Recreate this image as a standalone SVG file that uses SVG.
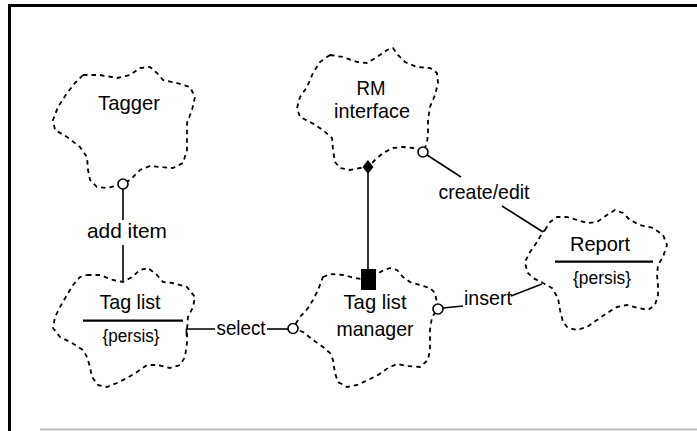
<svg xmlns="http://www.w3.org/2000/svg" width="697" height="431" viewBox="0 0 697 431">
<style>
.cloud{fill:none;stroke:#000;stroke-width:1.8;stroke-dasharray:4.5 4;stroke-linejoin:round}
.t{font-family:"Liberation Sans",Arial,sans-serif;font-size:21px;fill:#000;text-anchor:middle}
.s{font-family:"Liberation Sans",Arial,sans-serif;font-size:18px;fill:#000;text-anchor:middle}
.ln{stroke:#000;stroke-width:1.6;fill:none}
.div{stroke:#000;stroke-width:2.2}
.lol{fill:#fff;stroke:#000;stroke-width:1.6}
</style>
<rect width="697" height="431" fill="#fff"/>
<g id="frame">
<line x1="8" y1="5.5" x2="697" y2="5.5" stroke="#000" stroke-width="3"/>
<line x1="9.5" y1="4" x2="9.5" y2="431" stroke="#000" stroke-width="3"/>
<line x1="40" y1="429.5" x2="697" y2="429.5" stroke="#bbb" stroke-width="2"/>
</g>
<g id="tagger">
<polygon class="cloud" points="83,75 100,75 117,78 130,75 140,68 150,67 157,73 163,80 177,83 190,87 195,97 192,110 187,123 187,137 187,150 183,163 173,168 160,167 150,166 140,170 130,180 123,184 107,188 97,187 90,180 88,170 87,157 80,147 67,137 55,130 53,120 58,107 67,93 75,83"/>
<text class="t" x="129" y="110" textLength="62" lengthAdjust="spacingAndGlyphs">Tagger</text>
</g>
<g id="taglist">
<polygon class="cloud" points="87,275 100,275 113,280 123,282 132,277 140,270 148,268 157,275 163,282 173,283 187,287 195,297 193,307 188,317 187,330 187,343 185,357 180,365 170,368 157,365 147,365 137,372 127,378 117,383 107,387 98,385 92,377 90,367 87,357 83,350 72,343 60,337 53,328 55,317 60,307 67,295 73,285 80,277"/>
<text class="t" x="130" y="309" textLength="61" lengthAdjust="spacingAndGlyphs">Tag list</text>
<line class="div" x1="83" y1="320.7" x2="183" y2="320.7"/>
<text class="s" x="131" y="342" textLength="57" lengthAdjust="spacingAndGlyphs">{persis}</text>
</g>
<g id="taglistmanager">
<polygon class="cloud" points="323,277 330,274 343,275 355,278 368,280 376,275 382,271 390,268 397,270 403,277 410,282 420,285 430,288 435,293 437,303 438,309 432,317 430,330 430,340 430,350 428,360 420,367 407,366 397,364 388,368 378,375 368,380 357,385 347,387 338,382 335,373 333,360 330,353 323,347 313,340 303,332 293,328 300,317 308,308 313,300 318,290"/>
<text class="t" x="375" y="309" textLength="63" lengthAdjust="spacingAndGlyphs">Tag list</text>
<text class="t" x="375" y="336" textLength="77" lengthAdjust="spacingAndGlyphs">manager</text>
</g>
<g id="rminterface">
<polygon class="cloud" points="330,55 343,57 357,62 367,63 377,57 387,50 393,48 398,55 405,62 417,67 430,68 437,73 438,83 435,95 430,107 428,120 428,133 427,143 423,152 413,148 403,147 393,148 383,153 375,160 368,167 360,168 350,170 340,168 335,162 333,150 332,138 323,130 312,123 300,117 297,108 300,97 307,87 313,73 320,62"/>
<text class="t" x="371" y="95" textLength="29" lengthAdjust="spacingAndGlyphs">RM</text>
<text class="t" x="372" y="118" textLength="76" lengthAdjust="spacingAndGlyphs">interface</text>
</g>
<g id="report">
<polygon class="cloud" points="545,230 550,222 557,217 567,217 577,220 587,223 597,222 607,215 615,210 623,213 630,220 640,225 653,228 663,235 667,245 663,257 658,265 657,275 658,285 658,295 655,305 648,310 638,308 627,305 617,307 607,313 597,320 587,327 577,330 568,328 563,322 560,310 558,298 552,288 543,283 533,278 527,272 525,262 530,252 537,242 542,233"/>
<text class="t" x="600" y="251" textLength="60" lengthAdjust="spacingAndGlyphs">Report</text>
<line class="div" x1="555" y1="261.7" x2="653" y2="261.7"/>
<text class="s" x="602" y="284" textLength="58" lengthAdjust="spacingAndGlyphs">{persis}</text>
</g>
<g id="connectors">
<line class="ln" x1="123" y1="189" x2="123" y2="220"/>
<line class="ln" x1="123" y1="245" x2="123" y2="282"/>
<circle class="lol" cx="123" cy="184" r="5"/>
<text class="t" x="127" y="238" textLength="80" lengthAdjust="spacingAndGlyphs">add item</text>
<path class="ln" d="M186.5,336 V329 H215"/>
<text class="t" x="241" y="335" textLength="49" lengthAdjust="spacingAndGlyphs">select</text>
<line class="ln" x1="267" y1="329" x2="288" y2="329"/>
<circle class="lol" cx="293" cy="328.5" r="5"/>
<line class="ln" x1="368" y1="172" x2="368" y2="270"/>
<polygon points="368,160 373.5,167 368,174 362.5,167" fill="#000"/>
<rect x="361" y="269" width="15" height="21" fill="#000"/>
<line class="ln" x1="427" y1="155" x2="461" y2="177"/>
<circle class="lol" cx="423" cy="152" r="5"/>
<text class="t" x="484" y="199" textLength="91" lengthAdjust="spacingAndGlyphs">create/edit</text>
<line class="ln" x1="502" y1="206" x2="543" y2="232"/>
<line class="ln" x1="443" y1="308" x2="463" y2="306"/>
<circle class="lol" cx="438" cy="309" r="5"/>
<text class="t" x="488" y="305" textLength="48" lengthAdjust="spacingAndGlyphs">insert</text>
<line class="ln" x1="511" y1="296" x2="542" y2="284"/>
</g>
</svg>
